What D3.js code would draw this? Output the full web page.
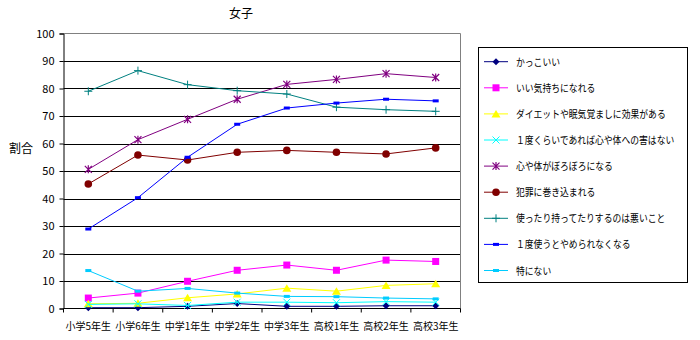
<!DOCTYPE html>
<html><head><meta charset="utf-8">
<script src="https://cdn.jsdelivr.net/npm/d3@7"></script>
<style>body{margin:0;background:#fff}svg{display:block}text{font-family:"Noto Sans CJK JP","DejaVu Sans",sans-serif}</style>
</head><body><svg id="c" width="700" height="340"></svg>
<script>
const categories = ["小学5年生","小学6年生","中学1年生","中学2年生","中学3年生","高校1年生","高校2年生","高校3年生"];
const seriesNames = ["かっこいい","いい気持ちになれる","ダイエットや眠気覚ましに効果がある","１度くらいであれば心や体への害はない","心や体がぼろぼろになる","犯罪に巻き込まれる","使ったり持ってたりするのは悪いこと","１度使うとやめられなくなる","特にない"];
const sKakkoii   = [0.3, 0.3, 0.8, 1.8, 0.8, 0.8, 1.0, 1.0];
const sKimochi   = [3.8, 5.6, 9.9, 13.9, 15.8, 13.9, 17.6, 17.1];
const sDiet      = [1.7, 1.9, 3.9, 5.3, 7.4, 6.3, 8.4, 9.0];
const sIchido    = [1.5, 1.7, 1.1, 2.3, 2.3, 2.1, 2.5, 2.3];
const sBoroboro  = [50.6, 61.4, 68.8, 76.1, 81.5, 83.3, 85.4, 84.0];
const sHanzai    = [45.3, 55.8, 54.0, 56.8, 57.5, 56.8, 56.2, 58.4];
const sWarui     = [79.0, 86.5, 81.4, 79.2, 78.0, 73.2, 72.3, 71.7];
const sYamerare  = [28.9, 40.3, 55.0, 67.0, 72.9, 74.7, 76.1, 75.5];
const sTokuni    = [13.8, 6.3, 7.3, 5.6, 4.4, 4.3, 3.8, 3.5];
const yTicks = [0,10,20,30,40,50,60,70,80,90,100];
const title = "女子";
const yLabel = "割合";

const allSeries = [sKakkoii,sKimochi,sDiet,sIchido,sBoroboro,sHanzai,sWarui,sYamerare,sTokuni];
const colors = ["#000080","#FF00FF","#FFFF00","#00FFFF","#800080","#800000","#008080","#0000FF","#00CCFF"];
const markers = ["diamond","square","triangle","x","star","circle","plus","dash","dash"];

const svg = d3.select("#c");
const L=63.5, R=460.5, T=33.5, B=308.5;
const x = d3.scaleBand().domain(categories).range([L,R]);
const y = d3.scaleLinear().domain([0,100]).range([B,T]);

// gridlines
svg.append("g").selectAll("line").data(yTicks.filter(t=>t>0&&t<100)).join("line")
  .attr("x1",L).attr("x2",R).attr("y1",d=>Math.round(y(d))+0.5).attr("y2",d=>Math.round(y(d))+0.5)
  .attr("stroke","#000").attr("stroke-width",1);
// plot border top/right gray
svg.append("path").attr("d",`M${L},${T}H${R}V${B}`).attr("fill","none").attr("stroke","#808080");

// y axis
const ya = d3.axisLeft(y).tickValues(yTicks).tickSize(4).tickPadding(5);
const gy = svg.append("g").attr("transform",`translate(${L},0)`).call(ya);
gy.select(".domain").attr("stroke","#000");
gy.selectAll("text").attr("font-size",11).attr("font-family","DejaVu Sans Mono, monospace").attr("fill","#000");

// x axis
const gx = svg.append("g").attr("transform",`translate(0,${B})`);
gx.append("line").attr("x1",L).attr("x2",R).attr("stroke","#000");
gx.selectAll("line.t").data(d3.range(categories.length+1)).join("line").attr("class","t")
  .attr("x1",i=>L+i*x.step()).attr("x2",i=>L+i*x.step()).attr("y1",0).attr("y2",4).attr("stroke","#000");
gx.selectAll("text").data(categories).join("text")
  .attr("x",d=>x(d)+x.bandwidth()/2).attr("y",21).attr("text-anchor","middle")
  .attr("font-size",10).text(d=>d);

svg.append("text").attr("x",241).attr("y",18).attr("text-anchor","middle").attr("font-size",12).text(title);
svg.append("text").attr("x",21).attr("y",153).attr("text-anchor","middle").attr("font-size",12).text(yLabel);

function drawMarker(g, type, color, cx, cy){
  const s=3.5;
  switch(type){
    case "diamond": g.append("path").attr("d",`M${cx},${cy-s}L${cx+s},${cy}L${cx},${cy+s}L${cx-s},${cy}Z`).attr("fill",color); break;
    case "square": g.append("rect").attr("x",cx-3.5).attr("y",cy-3.5).attr("width",7).attr("height",7).attr("fill",color); break;
    case "triangle": g.append("path").attr("d",`M${cx},${cy-4}L${cx+4.5},${cy+3.5}L${cx-4.5},${cy+3.5}Z`).attr("fill",color); break;
    case "x": g.append("path").attr("d",`M${cx-3.5},${cy-3.5}L${cx+3.5},${cy+3.5}M${cx+3.5},${cy-3.5}L${cx-3.5},${cy+3.5}`).attr("stroke",color).attr("stroke-width",1); break;
    case "star": g.append("path").attr("d",`M${cx-3.5},${cy-3.5}L${cx+3.5},${cy+3.5}M${cx+3.5},${cy-3.5}L${cx-3.5},${cy+3.5}M${cx},${cy-4}V${cy+4}`).attr("stroke",color).attr("stroke-width",1.2); break;
    case "circle": g.append("circle").attr("cx",cx).attr("cy",cy).attr("r",3.8).attr("fill",color); break;
    case "plus": g.append("path").attr("d",`M${cx-4},${cy}H${cx+4}M${cx},${cy-4}V${cy+4}`).attr("stroke",color).attr("stroke-width",1); break;
    case "dash": g.append("rect").attr("x",cx-3).attr("y",cy-1.5).attr("width",6).attr("height",3).attr("fill",color); break;
  }
}

const line = d3.line().x((d,i)=>x(categories[i])+x.bandwidth()/2).y(d=>y(d));
allSeries.forEach((vals,k)=>{
  const g = svg.append("g");
  g.append("path").attr("d",line(vals)).attr("fill","none").attr("stroke",colors[k]).attr("stroke-width",1);
  vals.forEach((v,i)=>drawMarker(g,markers[k],colors[k],x(categories[i])+x.bandwidth()/2,y(v)));
});

// legend
const lg = svg.append("g");
lg.append("rect").attr("x",478.5).attr("y",47.5).attr("width",209).attr("height",235).attr("fill","#fff").attr("stroke","#000");
seriesNames.forEach((n,k)=>{
  const cy = 61.7 + k*26.1;
  const it = lg.append("g");
  it.append("line").attr("x1",484).attr("x2",508).attr("y1",cy).attr("y2",cy).attr("stroke",colors[k]);
  drawMarker(it,markers[k],colors[k],496,cy);
  it.append("text").attr("transform",`translate(516,${cy+4}) scale(0.84,1)`).attr("font-size",10.5).text(n);
});
</script></body></html>
